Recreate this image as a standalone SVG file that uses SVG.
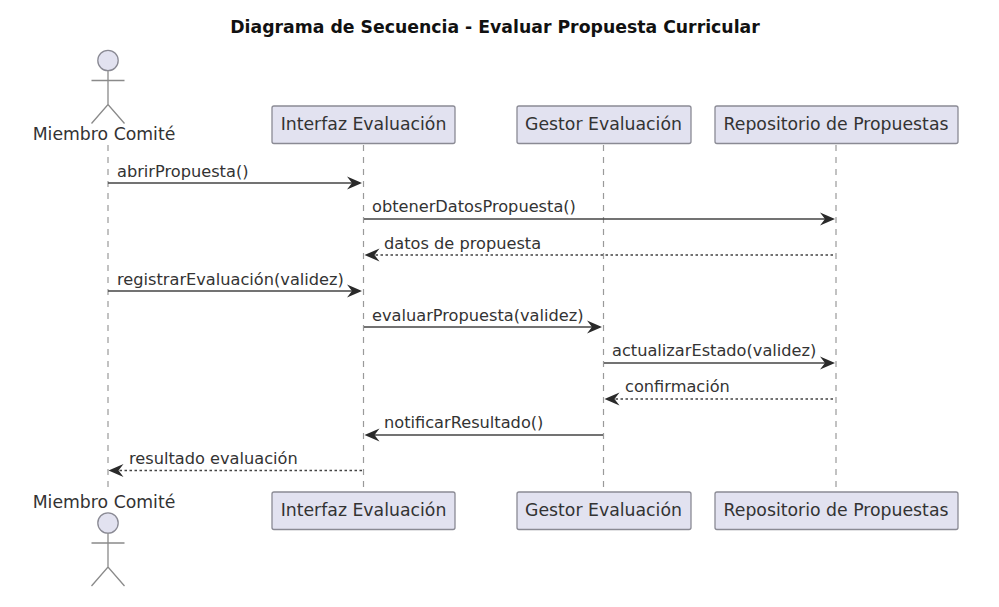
<svg xmlns="http://www.w3.org/2000/svg" width="999" height="607" viewBox="0 0 999 607">
<style>
text{font-family:"DejaVu Sans",sans-serif;fill:#333}
.t{font-size:17.300px;font-weight:bold;fill:#111}
.n{font-size:17.300px;text-anchor:middle}
.m{font-size:16.200px}
.b{fill:#e2e2f0;stroke:#8a8a94;stroke-width:1.3}
.s{fill:none;stroke:#8a8a8a;stroke-width:1.3}
.l{stroke:#9a9a9a;stroke-width:1.2;stroke-dasharray:6 6;fill:none}
.a{stroke:#444;stroke-width:1.6;fill:none}
.d{stroke:#444;stroke-width:1.3;stroke-dasharray:2.5 2.5;fill:none}
</style>
<defs>
<path id="hr" d="M-15,-6.500 L0,0 L-15,6.500 L-10,0 Z" fill="#2a2a2a"/>
<path id="hl" d="M15,-6.500 L0,0 L15,6.500 L10,0 Z" fill="#2a2a2a"/>
<g id="actor"><circle cx="0" cy="0" r="10.200" class="b"/><path class="s" d="M0,10 V44 M-16.500,20 H16.500 M-16.500,63 L0,44 L16.500,63"/></g>
</defs>
<text class="t" x="495" y="33" text-anchor="middle">Diagrama de Secuencia - Evaluar Propuesta Curricular</text>
<g id="lifelines">
<path class="l" d="M108,145 V492"/><path class="l" d="M363.500,145 V492"/><path class="l" d="M603.500,145 V492"/><path class="l" d="M836,145 V492"/>
</g>
<g id="top-miembro"><use href="#actor" x="108" y="60.500"/><text class="n" x="104" y="140">Miembro Comité</text></g>
<g id="top-interfaz"><rect class="b" x="272" y="106" width="183" height="37.500" rx="2"/><text class="n" x="363.500" y="130">Interfaz Evaluación</text></g>
<g id="top-gestor"><rect class="b" x="517" y="106" width="174" height="37.500" rx="2"/><text class="n" x="603.500" y="130">Gestor Evaluación</text></g>
<g id="top-repositorio"><rect class="b" x="715" y="106" width="243" height="37.500" rx="2"/><text class="n" x="836" y="130">Repositorio de Propuestas</text></g>
<g id="connectors">
<path class="a" d="M108,183 H360"/><use href="#hr" x="362" y="183"/>
<path class="a" d="M364,219 H832"/><use href="#hr" x="835" y="219"/>
<path class="d" d="M833,255 H368"/><use href="#hl" x="364.500" y="255"/>
<path class="a" d="M108,291 H360"/><use href="#hr" x="362" y="291"/>
<path class="a" d="M364,327 H600"/><use href="#hr" x="602" y="327"/>
<path class="a" d="M604,363 H832"/><use href="#hr" x="835" y="363"/>
<path class="d" d="M833,399 H608"/><use href="#hl" x="604.500" y="399"/>
<path class="a" d="M603,435 H367"/><use href="#hl" x="364.500" y="435"/>
<path class="d" d="M362,470.500 H112"/><use href="#hl" x="108.500" y="470.500"/>
</g>
<g id="labels">
<text class="m" x="117" y="177">abrirPropuesta()</text>
<text class="m" x="372" y="212">obtenerDatosPropuesta()</text>
<text class="m" x="384" y="248.500">datos de propuesta</text>
<text class="m" x="117" y="284.500">registrarEvaluación(validez)</text>
<text class="m" x="372" y="320.500">evaluarPropuesta(validez)</text>
<text class="m" x="612" y="356">actualizarEstado(validez)</text>
<text class="m" x="625" y="392">confirmación</text>
<text class="m" x="384" y="428">notificarResultado()</text>
<text class="m" x="129" y="464">resultado evaluación</text>
</g>
<g id="bottom-miembro"><text class="n" x="104" y="508">Miembro Comité</text><use href="#actor" x="108" y="523"/></g>
<g id="bottom-interfaz"><rect class="b" x="272" y="492" width="183" height="37.500" rx="2"/><text class="n" x="363.500" y="516">Interfaz Evaluación</text></g>
<g id="bottom-gestor"><rect class="b" x="517" y="492" width="174" height="37.500" rx="2"/><text class="n" x="603.500" y="516">Gestor Evaluación</text></g>
<g id="bottom-repositorio"><rect class="b" x="715" y="492" width="243" height="37.500" rx="2"/><text class="n" x="836" y="516">Repositorio de Propuestas</text></g>
</svg>
